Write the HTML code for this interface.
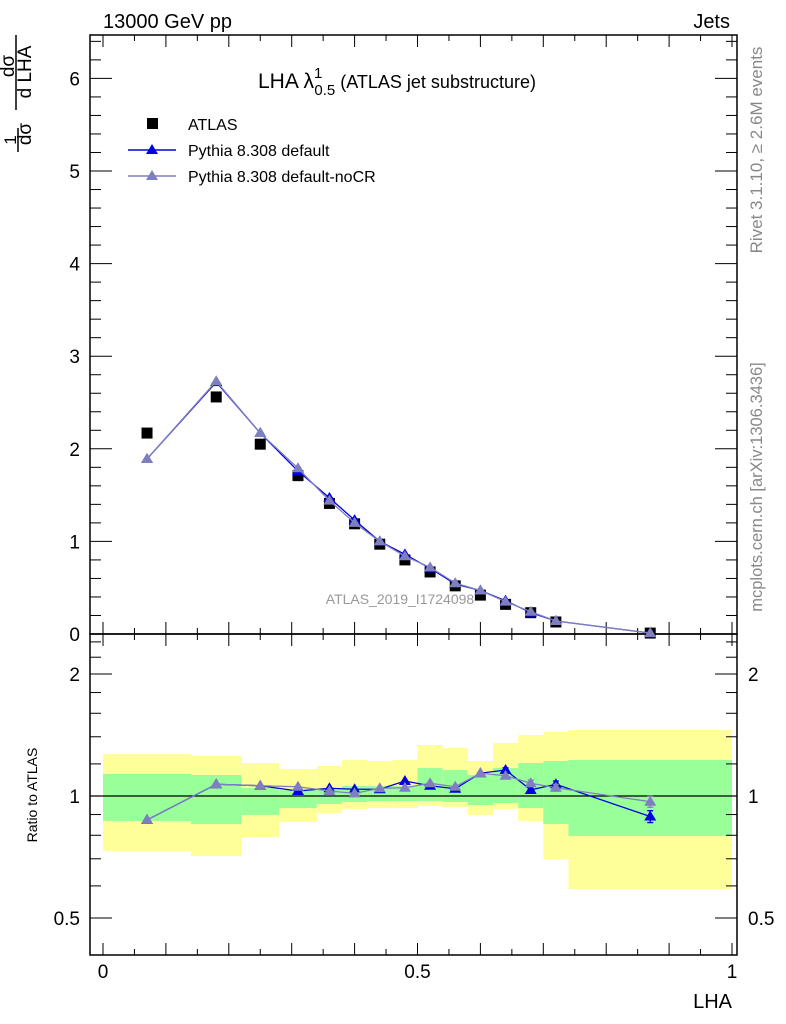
<!DOCTYPE html>
<html><head><meta charset="utf-8">
<style>
body{margin:0;background:#fff;}
svg{display:block;font-family:"Liberation Sans",sans-serif;}
</style></head>
<body>
<svg id="c" width="786" height="1024" viewBox="0 0 786 1024" xmlns="http://www.w3.org/2000/svg">
<text x="103" y="28" font-size="20">13000 GeV pp</text>
<text x="730" y="28" font-size="20" text-anchor="end">Jets</text>
<text x="258" y="88" font-size="21">LHA λ<tspan font-size="15" dy="-10">1</tspan><tspan font-size="15" dx="-8" dy="17">0.5</tspan><tspan font-size="18" dy="-7"> (ATLAS jet substructure)</tspan></text>
<g>
<rect x="147" y="118" width="11" height="11" fill="#000"/>
<text x="188" y="130" font-size="16">ATLAS</text>
<line x1="128" y1="150" x2="176" y2="150" stroke="#0000e0" stroke-width="1.5"/>
<polygon points="152,144 146,154 158,154" fill="#0000e0"/>
<text x="188" y="156" font-size="16">Pythia 8.308 default</text>
<line x1="128" y1="176" x2="176" y2="176" stroke="#7f7fbf" stroke-width="1.5"/>
<polygon points="152,170 146,180 158,180" fill="#7f7fbf"/>
<text x="188" y="182" font-size="16">Pythia 8.308 default-noCR</text>
</g>
<text x="400" y="604" font-size="14" fill="#999" text-anchor="middle">ATLAS_2019_I1724098</text>
<g font-size="19">
<text transform="translate(16,140) rotate(-90)" text-anchor="middle" font-size="17">1</text>
<line x1="18" y1="128" x2="18" y2="152" stroke="#000" stroke-width="1.5"/>
<text transform="translate(31,134) rotate(-90)" text-anchor="middle">dσ</text>
<text transform="translate(14,66) rotate(-90)" text-anchor="middle">dσ</text>
<line x1="16" y1="35" x2="16" y2="110" stroke="#000" stroke-width="1.5"/>
<text transform="translate(31,72) rotate(-90)" text-anchor="middle">d LHA</text>
</g>
<text transform="translate(37,795) rotate(-90)" font-size="14" text-anchor="middle">Ratio to ATLAS</text>
<text x="732" y="1008" font-size="20" text-anchor="end">LHA</text>
<text transform="translate(762,150) rotate(-90)" font-size="17" fill="#888" text-anchor="middle">Rivet 3.1.10, ≥ 2.6M events</text>
<text transform="translate(762,487) rotate(-90)" font-size="16.5" fill="#888" text-anchor="middle">mcplots.cern.ch [arXiv:1306.3436]</text>
<g id="bands"></g><g id="axes"></g><g id="marks"></g>
</svg>
<script>
const edges=[0,0.14,0.22,0.28,0.34,0.38,0.42,0.46,0.5,0.54,0.58,0.62,0.66,0.7,0.74,1.0];
const xs=[0.07,0.18,0.25,0.31,0.36,0.40,0.44,0.48,0.52,0.56,0.60,0.64,0.68,0.72,0.87];
const atlas=[2.17,2.56,2.05,1.71,1.41,1.19,0.97,0.80,0.67,0.52,0.42,0.32,0.23,0.13,0.01];
const pyDef=[1.89,2.72,2.17,1.76,1.47,1.23,1.00,0.86,0.71,0.54,0.47,0.36,0.23,0.14,0.01];
const pyNoCR=[1.89,2.73,2.17,1.79,1.44,1.20,1.00,0.84,0.72,0.55,0.47,0.35,0.24,0.14,0.01];
const rDef=[0.873,1.069,1.060,1.029,1.045,1.039,1.039,1.089,1.060,1.042,1.138,1.159,1.035,1.069,0.89];
const rNoCR=[0.873,1.069,1.060,1.054,1.029,1.015,1.045,1.048,1.075,1.054,1.138,1.122,1.075,1.048,0.968];
const rDefErr=[0,0,0,0,0,0,0,0,0,0,0,0.015,0.01,0.02,0.03];
const rNoCRErr=[0,0,0,0,0,0,0,0,0,0,0,0,0.02,0.02,0.03];
const yelHi=[1.269,1.255,1.206,1.166,1.186,1.227,1.22,1.227,1.336,1.313,1.22,1.351,1.414,1.439,1.455];
const yelLo=[0.732,0.711,0.792,0.863,0.908,0.929,0.934,0.934,0.945,0.939,0.898,0.929,0.868,0.699,0.589];
const grnHi=[1.133,1.127,1.046,1.035,1.04,1.058,1.058,1.058,1.172,1.159,1.127,1.172,1.206,1.22,1.227];
const grnLo=[0.868,0.853,0.898,0.934,0.956,0.966,0.972,0.972,0.972,0.966,0.950,0.961,0.934,0.853,0.797];
const mainTicks=[0,1,2,3,4,5,6];
const ratioTicks=[0.5,1,2];
const xTickLabels=[0,0.5,1];

const NS="http://www.w3.org/2000/svg";
const L=90,R=737,T=35,M=634,B=955;
const X=v=>103+629*v;
const Y=v=>634-92.6*v;
const RY=v=>796-405.3*Math.log10(v);
function mk(parent,tag,attrs){const e=document.createElementNS(NS,tag);for(const k in attrs)e.setAttribute(k,attrs[k]);document.getElementById(parent).appendChild(e);return e;}

for(let i=0;i<xs.length;i++){
 const y=mk('bands','rect',{x:X(edges[i]),y:RY(yelHi[i]),width:X(edges[i+1])-X(edges[i]),height:RY(yelLo[i])-RY(yelHi[i]),fill:'#ffff99'});
 
 
 const g=mk('bands','rect',{x:X(edges[i]),y:RY(grnHi[i]),width:X(edges[i+1])-X(edges[i]),height:RY(grnLo[i])-RY(grnHi[i]),fill:'#99ff99'});
 
 
}
const f1=mk('axes','rect',{x:L,y:T,width:R-L,height:M-T,fill:'none',stroke:'#000','stroke-width':1.5});


const f2=mk('axes','rect',{x:L,y:M,width:R-L,height:B-M,fill:'none',stroke:'#000','stroke-width':1.5});


const ref=mk('axes','line',{x1:L,x2:R,y1:RY(1),y2:RY(1),stroke:'#000','stroke-width':1.2});


for(let k=0;k<=20;k++){const v=k*0.05;const len=(k%2==0)?12:6;
 for(const [yb,dir] of [[M,-1],[T,1],[B,-1],[M,1]]){
  mk('axes','line',{x1:X(v),x2:X(v),y1:yb,y2:yb+dir*len,stroke:'#000','stroke-width':1});
 }}
xTickLabels.forEach(v=>{const t=mk('axes','text',{x:X(v),y:978,'font-size':19,'text-anchor':'middle'});t.textContent=String(v);
 
 });
for(let k=0;k<=32;k++){const v=k*0.2;const y=Y(v);if(y<T)continue;const len=(k%5==0)?22:11;
 mk('axes','line',{x1:L,x2:L+len,y1:y,y2:y,stroke:'#000','stroke-width':1});
 mk('axes','line',{x1:R,x2:R-len,y1:y,y2:y,stroke:'#000','stroke-width':1});}
mainTicks.forEach(v=>{const t=mk('axes','text',{x:80,y:Y(v)+7,'font-size':19,'text-anchor':'end'});t.textContent=String(v);
 
 });
const minor=[0.5,0.6,0.7,0.8,0.9,1,1.2,1.4,1.6,1.8,2,2.2,2.4];
minor.forEach(v=>{const y=RY(v);const len=ratioTicks.includes(v)?22:11;
 mk('axes','line',{x1:L,x2:L+len,y1:y,y2:y,stroke:'#000','stroke-width':1});
 mk('axes','line',{x1:R,x2:R-len,y1:y,y2:y,stroke:'#000','stroke-width':1});});
ratioTicks.forEach(v=>{const t=mk('axes','text',{x:80,y:RY(v)+7,'font-size':19,'text-anchor':'end'});t.textContent=String(v);
 
 
 const t2=mk('axes','text',{x:748,y:RY(v)+7,'font-size':19});t2.textContent=String(v);
 
 });
function tri(x,y,c,name){const p=mk('marks','polygon',{points:`${x},${y-6} ${x-6},${y+4} ${x+6},${y+4}`,fill:c});
 
 }
function series(vals,yf,c,name,errs){const pl=mk('marks','polyline',{points:xs.map((x,i)=>X(x)+','+yf(vals[i])).join(' '),fill:'none',stroke:c,'stroke-width':1.3});
 
 
 if(errs)xs.forEach((x,i)=>{if(!errs[i])return;const e=mk('marks','path',{d:`M${X(x)},${yf(vals[i]+errs[i])}V${yf(vals[i]-errs[i])}M${X(x)-3},${yf(vals[i]+errs[i])}h6M${X(x)-3},${yf(vals[i]-errs[i])}h6`,stroke:c,'stroke-width':1.3,fill:'none'});
  
  });
 xs.forEach((x,i)=>tri(X(x),yf(vals[i]),c,name+'-point'));}
xs.forEach((x,i)=>{const r=mk('marks','rect',{x:X(x)-5.5,y:Y(atlas[i])-5.5,width:11,height:11,fill:'#000'});
 
 });
series(pyDef,Y,'#0000e0','pythia-default');
series(pyNoCR,Y,'#7f7fbf','pythia-nocr');
series(rDef,RY,'#0000e0','ratio-pythia-default',rDefErr);
series(rNoCR,RY,'#7f7fbf','ratio-pythia-nocr',rNoCRErr);
</script>
</body></html>
